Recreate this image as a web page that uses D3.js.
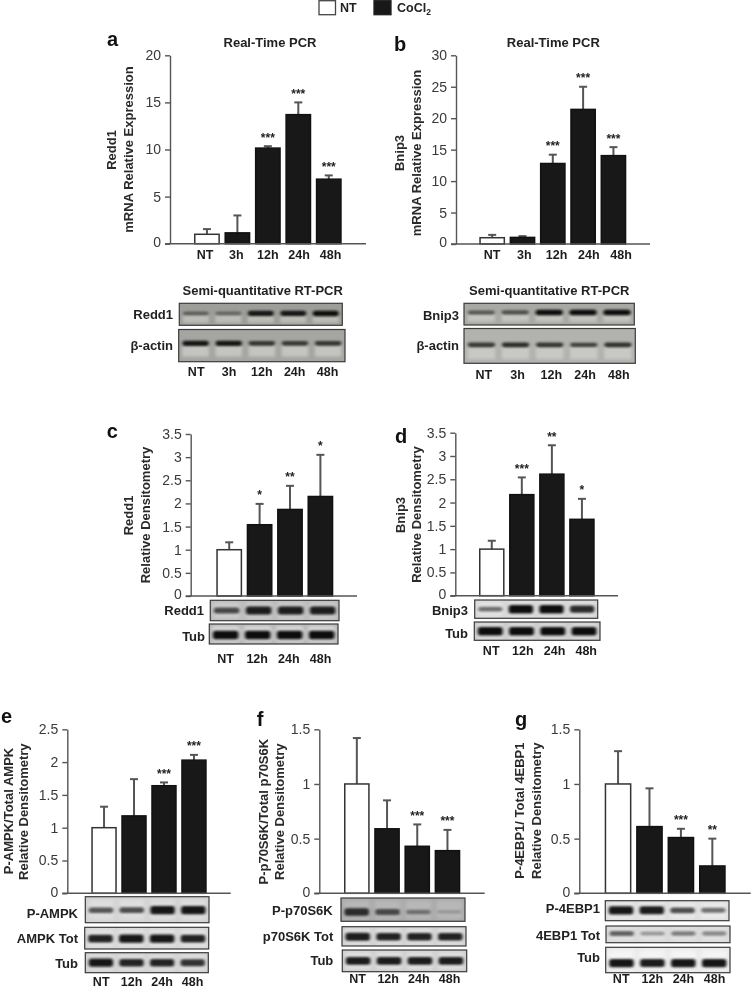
<!DOCTYPE html>
<html><head><meta charset="utf-8">
<script src="https://cdn.jsdelivr.net/npm/d3@7"></script>
<style>
html,body{margin:0;padding:0;background:#fff}
svg{display:block;filter:blur(.55px)}
text{font-family:"Liberation Sans",Arial,sans-serif}
</style></head><body><div id="c"></div>
<script>
// ---- categories ----
const catsTime5 = ["NT","3h","12h","24h","48h"];
const catsTime4 = ["NT","12h","24h","48h"];
// ---- series values (bar heights, error-bar tops, significance) ----
const aValues = [1,1.15,10.15,13.7,6.85];
const aErrTop = [1.55,3.0,10.35,15.0,7.25];
const aStars  = ["","","***","***","***"];
const bValues = [1,1.05,12.8,21.4,14.05];
const bErrTop = [1.45,1.25,14.2,25,15.4];
const bStars  = ["","","***","***","***"];
const cValues = [1,1.54,1.87,2.15];
const cErrTop = [1.16,1.99,2.38,3.05];
const cStars  = ["","*","**","*"];
const dValues = [1,2.17,2.61,1.64];
const dErrTop = [1.18,2.54,3.23,2.08];
const dStars  = ["","***","**","*"];
const eValues = [1,1.18,1.64,2.03];
const eErrTop = [1.32,1.74,1.69,2.11];
const eStars  = ["","","***","***"];
const fValues = [1,0.59,0.43,0.39];
const fErrTop = [1.42,0.85,0.63,0.58];
const fStars  = ["","","***","***"];
const gValues = [1,0.61,0.51,0.25];
const gErrTop = [1.3,0.96,0.59,0.5];
const gStars  = ["","","***","**"];
// ---- tick labels ----
const ticks20 = [0,5,10,15,20];
const ticks30 = [0,5,10,15,20,25,30];
const ticks35 = [0,0.5,1,1.5,2,2.5,3,3.5];
const ticks25 = [0,0.5,1,1.5,2,2.5];
const ticks15 = [0,0.5,1,1.5];
// ---- blot band intensities (0 to 1, per lane) ----
const aGelRedd1 = [.45,.4,.95,.95,1];
const aGelActin = [.95,.95,.72,.7,.72];
const bGelBnip3 = [.5,.55,1,1,1];
const bGelActin = [.7,.8,.72,.65,.75];
const cRedd1 = [.6,.9,.9,.9];
const cTub   = [1,1,1,1];
const dBnip3 = [.4,1,1,.8];
const dTub   = [1,1,1,1];
const ePampk = [.5,.55,.95,.95];
const eAmpk  = [.85,.95,.95,.85];
const eTub   = [.95,.85,.85,.75];
const fPp70  = [.8,.6,.35,.12];
const fP70   = [.9,.85,.85,.85];
const fTub   = [.9,.9,.9,.9];
const gP4e   = [.95,.9,.55,.4];
const g4e    = [.45,.25,.35,.3];
const gTub   = [.95,.9,.95,.95];

const W=751,H=988;
const svg=d3.select("#c").append("svg").attr("width",W).attr("height",H).attr("viewBox",`0 0 ${W} ${H}`);
const defs=svg.append("defs");
defs.append("filter").attr("id","bandBlur").attr("x","-30%").attr("y","-100%").attr("width","160%").attr("height","300%")
  .append("feGaussianBlur").attr("stdDeviation","1.4 1.1");
defs.append("filter").attr("id","smearBlur").attr("x","-30%").attr("y","-50%").attr("width","160%").attr("height","200%")
  .append("feGaussianBlur").attr("stdDeviation","1.8");
defs.append("filter").attr("id","laneBlur").attr("x","-30%").attr("y","-30%").attr("width","160%").attr("height","160%")
  .append("feGaussianBlur").attr("stdDeviation","2.2");

const INK="#222", AXIS="#555";
function put(t,x,y,o={}){
  const s=svg.append("text").attr("x",x).attr("y",y).text(t)
    .attr("fill",o.fill||INK).attr("font-size",o.size||13).attr("font-weight",o.weight||"bold")
    .attr("text-anchor",o.anchor||"middle").attr("dominant-baseline",o.base||"central");
  return s;
}
function vlabel(t,x,y){
  svg.append("text").attr("transform",`translate(${x},${y}) rotate(-90)`).text(t)
    .attr("fill","#2a2a2a").attr("font-size",13).attr("font-weight","bold")
    .attr("text-anchor","middle").attr("dominant-baseline","central");
}
function letter(t,x,y){ put(t,x,y,{size:20,anchor:"start",base:"alphabetic",fill:"#111"}); }

function barChart(p){
  const x=d3.scaleBand().domain(p.cats).range(p.bars).paddingInner(.15).paddingOuter(0);
  const y=d3.scaleLinear().domain([0,p.ticks[p.ticks.length-1]]).range(p.yr);
  const g=svg.append("g");
  const e=g.append("g").attr("stroke",AXIS).attr("stroke-width",2);
  p.cats.forEach((c,i)=>{
    const cx=x(c)+x.bandwidth()/2;
    e.append("line").attr("x1",cx).attr("x2",cx).attr("y1",y(p.vals[i])).attr("y2",y(p.err[i]));
    e.append("line").attr("x1",cx-4).attr("x2",cx+4).attr("y1",y(p.err[i])).attr("y2",y(p.err[i]));
  });
  g.selectAll("rect.bar").data(p.cats).join("rect").attr("class","bar")
    .attr("x",c=>x(c)+.75).attr("width",x.bandwidth()-1.5)
    .attr("y",(c,i)=>y(p.vals[i])).attr("height",(c,i)=>p.yr[0]-y(p.vals[i]))
    .attr("fill",c=>c==="NT"?"#fff":"#181818").attr("stroke",c=>c==="NT"?"#333":"#111").attr("stroke-width",1.5);
  g.selectAll("text.sig").data(p.cats).join("text").attr("class","sig")
    .attr("x",c=>x(c)+x.bandwidth()/2).attr("y",(c,i)=>y(p.err[i])-4.5)
    .attr("text-anchor","middle").attr("font-size",12).attr("font-weight","bold").attr("fill","#222")
    .text((c,i)=>p.stars[i]);
  const ya=g.append("g").attr("transform",`translate(${p.ax},0)`)
    .call(d3.axisLeft(y).tickValues(p.ticks).tickFormat(d3.format("~g")).tickSize(5).tickPadding(4).tickSizeOuter(0));
  ya.selectAll("path,line").attr("stroke",AXIS).attr("stroke-width",1.4);
  ya.selectAll("text").attr("font-size",14).attr("font-family",'"Liberation Sans",Arial,sans-serif').attr("fill","#3a3a3a");
  ya.selectAll(".tick").filter(d=>d===0).select("text").attr("dy","0.2em");
  g.append("line").attr("x1",p.ax-5).attr("x2",p.xEnd).attr("y1",p.yr[0]).attr("y2",p.yr[0]).attr("stroke",AXIS).attr("stroke-width",1.4);
  if(p.labelY!==undefined) timeLabels(p.cats,p.labelX,p.labelY);
}
function timeLabels(cats,xr,yPos){
  const sx=d3.scalePoint().domain(cats).range(xr);
  const a=svg.append("g").attr("transform",`translate(0,${yPos})`).call(d3.axisBottom(sx).tickSize(0).tickPadding(0));
  a.select("path").remove();
  a.selectAll("text").attr("y",0).attr("dy",0).attr("dominant-baseline","central")
    .attr("font-size",12.5).attr("font-weight","bold").attr("font-family",'"Liberation Sans",Arial,sans-serif').attr("fill","#1c1c1c");
}
function blot(b){
  const [x0,x1]=b.x,[y0,y1]=b.y,w=x1-x0,h=y1-y0;
  const g=svg.append("g");
  const cid="clip"+(blot.n=(blot.n||0)+1);
  defs.append("clipPath").attr("id",cid).append("rect").attr("x",x0).attr("y",y0).attr("width",w).attr("height",h);
  const inner=g.append("g").attr("clip-path",`url(#${cid})`);
  inner.append("rect").attr("x",x0).attr("y",y0).attr("width",w).attr("height",h).attr("fill",b.bg);
  const lane=d3.scaleBand().domain(d3.range(b.bands.length)).range([x0,x1]).paddingInner(.14).paddingOuter(.08);
  const cy=y0+h*b.pos;
  const color=d3.scaleLinear().domain([0,.5,1]).range([b.bg,"#555","#0e0e0e"]);
  const thick=d3.scaleLinear().domain([0,1]).range([2.5,b.gel?5.5:8.5]);
  if(b.halo) inner.selectAll("rect.halo").data(b.bands).join("rect").attr("class","halo")
      .attr("x",(d,i)=>lane(i)).attr("width",lane.bandwidth())
      .attr("y",y0+h*.1).attr("height",h*.8).attr("fill",b.halo).attr("filter","url(#laneBlur)");
  if(b.gel) inner.selectAll("rect.smear").data(b.bands).join("rect").attr("class","smear")
      .attr("x",(d,i)=>lane(i)+1).attr("width",lane.bandwidth()-2)
      .attr("y",cy+1).attr("height",h*.38).attr("fill",b.gel).attr("filter","url(#smearBlur)");
  inner.selectAll("rect.band").data(b.bands).join("rect").attr("class","band")
      .attr("x",(d,i)=>lane(i)+1).attr("width",lane.bandwidth()-2)
      .attr("y",d=>cy-thick(d)/2).attr("height",d=>thick(d)).attr("rx",2.5)
      .attr("fill",d=>color(d)).attr("filter","url(#bandBlur)");
  g.append("rect").attr("x",x0).attr("y",y0).attr("width",w).attr("height",h)
    .attr("fill","none").attr("stroke","#3a3a3a").attr("stroke-width",1.2);
  put(b.label,b.lx,b.ly,{anchor:"end",size:13});
}

// ---- legend ----
svg.append("rect").attr("x",319).attr("y",0.7).attr("width",16.5).attr("height",14).attr("fill","#fff").attr("stroke","#444").attr("stroke-width",1.3);
put("NT",340,8,{anchor:"start",size:12.5});
svg.append("rect").attr("x",374).attr("y",0.7).attr("width",17).attr("height",14).attr("fill","#181818").attr("stroke","#222").attr("stroke-width",1.3);
const coc=put("CoCl",397,8,{anchor:"start",size:12.5});
coc.append("tspan").attr("font-size",8.5).attr("dy",4).text("2");

// ---- panel a ----
letter("a",107,46);
put("Real-Time PCR",270,42.7);
vlabel("Redd1",111.7,150); vlabel("mRNA Relative Expression",128.3,149.5);
barChart({cats:catsTime5,vals:aValues,err:aErrTop,stars:aStars,ticks:ticks20,bars:[194,341.7],yr:[243.7,55.3],ax:170,xEnd:366,labelX:[204.5,330],labelY:255});
put("Semi-quantitative RT-PCR",262.7,290);
blot({x:[179.3,342.3],y:[303.3,325.3],pos:.46,bg:"#9d9d99",gel:"#bdbdb8",bands:aGelRedd1,label:"Redd1",lx:173,ly:314});
blot({x:[178.7,345],y:[329.5,361.7],pos:.43,bg:"#a5a5a2",gel:"#c4c4c0",bands:aGelActin,label:"β-actin",lx:173,ly:345});
timeLabels(catsTime5,[195.7,327],371.7);

// ---- panel b ----
letter("b",394,50.7);
put("Real-Time PCR",553.3,42.7);
vlabel("Bnip3",399.3,153); vlabel("mRNA Relative Expression",416.7,153);
barChart({cats:catsTime5,vals:bValues,err:bErrTop,stars:bStars,ticks:ticks30,bars:[479.3,626.3],yr:[244,55.3],ax:456,xEnd:650,labelX:[491.5,620.5],labelY:254.5});
put("Semi-quantitative RT-PCR",549.3,290.7);
blot({x:[464,634.3],y:[303.3,325],pos:.42,bg:"#a8a8a5",gel:"#c4c4c1",bands:bGelBnip3,label:"Bnip3",lx:459,ly:315});
blot({x:[464,635.3],y:[328.5,363.3],pos:.47,bg:"#b2b2af",gel:"#c8c8c5",bands:bGelActin,label:"β-actin",lx:459,ly:345.7});
timeLabels(catsTime5,[483.3,618.3],375);

// ---- panel c ----
letter("c",106.7,438.3);
vlabel("Redd1",128.3,515.5); vlabel("Relative Densitometry",145,515);
barChart({cats:catsTime4,vals:cValues,err:cErrTop,stars:cStars,ticks:ticks35,bars:[216.3,333.3],yr:[596,434],ax:190.7,xEnd:357});
blot({x:[210.3,339],y:[600.3,620.7],pos:.5,bg:"#b8b8b8",halo:"#cfcfcf",bands:cRedd1,label:"Redd1",lx:204,ly:610.5});
blot({x:[209.3,338],y:[624,644],pos:.55,bg:"#b4b4b4",halo:"#dcdcdc",bands:cTub,label:"Tub",lx:205,ly:636});
timeLabels(catsTime4,[225,320],659);

// ---- panel d ----
letter("d",395,442.7);
vlabel("Bnip3",400,515); vlabel("Relative Densitometry",416,514.5);
barChart({cats:catsTime4,vals:dValues,err:dErrTop,stars:dStars,ticks:ticks35,bars:[479,594.7],yr:[595.7,432.7],ax:455.3,xEnd:618});
blot({x:[474.7,597.7],y:[600,618.3],pos:.5,bg:"#d4d4d4",halo:"#e4e4e4",bands:dBnip3,label:"Bnip3",lx:468,ly:610.5});
blot({x:[474.3,600],y:[622,640.3],pos:.5,bg:"#c8c8c8",halo:"#e2e2e2",bands:dTub,label:"Tub",lx:468,ly:633});
timeLabels(catsTime4,[490.7,585.7],651);

// ---- panel e ----
letter("e",1,722.7);
vlabel("P-AMPK/Total AMPK",8,811); vlabel("Relative Densitometry",23.3,811.7);
barChart({cats:catsTime4,vals:eValues,err:eErrTop,stars:eStars,ticks:ticks25,bars:[91.3,206.7],yr:[893.3,729.3],ax:67.3,xEnd:230.7});
blot({x:[85.3,209],y:[896.7,922.7],pos:.52,bg:"#d0d0d0",halo:"#dedede",bands:ePampk,label:"P-AMPK",lx:78,ly:913.7});
blot({x:[84.7,208.7],y:[927.3,949],pos:.52,bg:"#d4d4d4",halo:"#e4e4e4",bands:eAmpk,label:"AMPK Tot",lx:78,ly:938});
blot({x:[85.3,208.3],y:[952.7,972.7],pos:.5,bg:"#d0d0d0",halo:"#e0e0e0",bands:eTub,label:"Tub",lx:78,ly:963.3});
timeLabels(catsTime4,[100.7,192],981.7);

// ---- panel f ----
letter("f",256.7,726);
vlabel("P-p70S6K/Total p70S6K",263.3,811.7); vlabel("Relative Densitometry",279.3,811.7);
barChart({cats:catsTime4,vals:fValues,err:fErrTop,stars:fStars,ticks:ticks15,bars:[344,460.3],yr:[893.3,729.3],ax:319.3,xEnd:484.7});
blot({x:[341,465],y:[898,921.3],pos:.6,bg:"#a8a8a8",halo:"#b8b8b8",bands:fPp70,label:"P-p70S6K",lx:332.7,ly:910.7});
blot({x:[342,466],y:[926.7,946],pos:.52,bg:"#cecece",halo:"#e4e4e4",bands:fP70,label:"p70S6K Tot",lx:333.3,ly:936.7});
blot({x:[342.3,466.7],y:[950,971.7],pos:.5,bg:"#cccccc",halo:"#e2e2e2",bands:fTub,label:"Tub",lx:333.3,ly:960.7});
timeLabels(catsTime4,[357,449],979);

// ---- panel g ----
letter("g",515,726);
vlabel("P-4EBP1/ Total 4EBP1",519.3,810.7); vlabel("Relative Densitometry",536,810.7);
barChart({cats:catsTime4,vals:gValues,err:gErrTop,stars:gStars,ticks:ticks15,bars:[604.7,725.7],yr:[893.3,729.3],ax:579.3,xEnd:750.7});
blot({x:[605.3,729],y:[900.7,920.7],pos:.48,bg:"#dcdcdc",halo:"#ebebeb",bands:gP4e,label:"P-4EBP1",lx:600,ly:908.3});
blot({x:[606,730],y:[926,942.7],pos:.45,bg:"#d8d8d8",halo:"#e2e2e2",bands:g4e,label:"4EBP1 Tot",lx:600,ly:935.3});
blot({x:[605.7,730],y:[947.3,972.7],pos:.62,bg:"#e8e8e8",halo:"#f4f4f4",bands:gTub,label:"Tub",lx:600,ly:957.3});
timeLabels(catsTime4,[620.7,714],979.3);
</script></body></html>
